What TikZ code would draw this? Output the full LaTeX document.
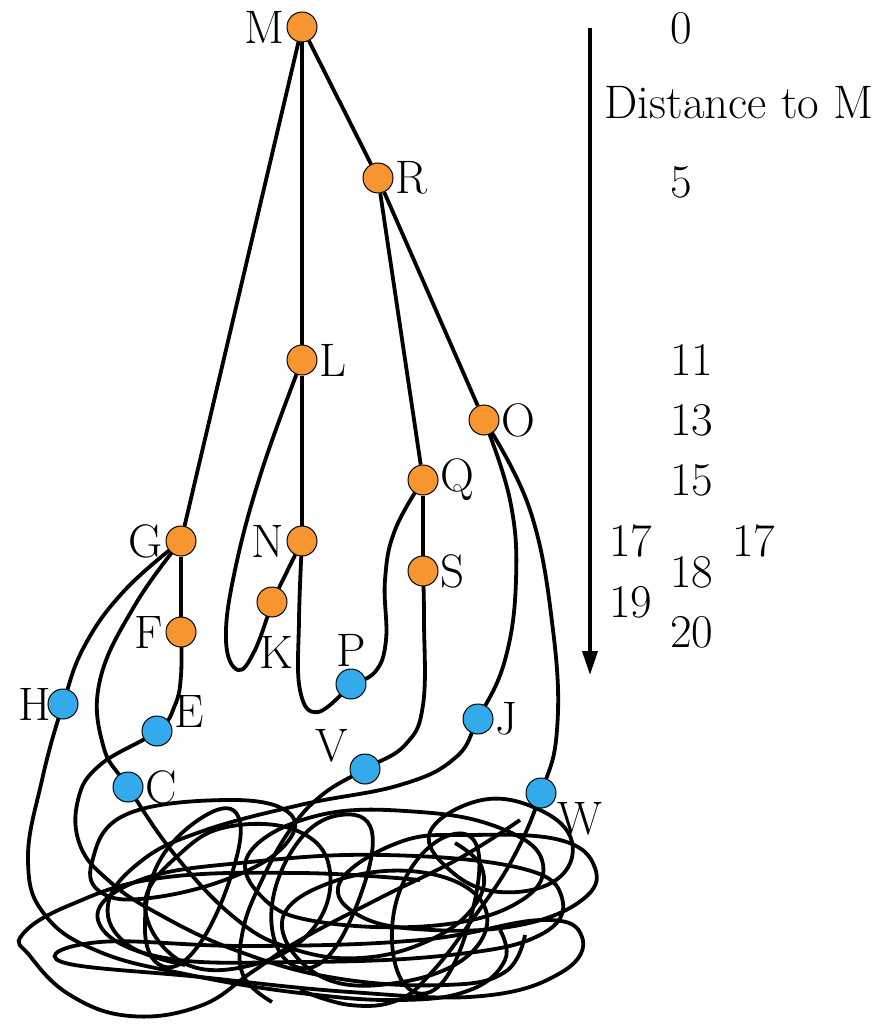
\documentclass[tikz,border=0pt]{standalone}
\usetikzlibrary{arrows.meta,backgrounds}
\definecolor{settledc}{RGB}{247,150,48}
\definecolor{frontierc}{RGB}{50,170,235}
\begin{document}
\begin{tikzpicture}[x=0.5pt,y=-0.5pt,
  font=\fontsize{23.5}{28}\selectfont,
  vtx/.style={circle,draw=black,line width=0.5pt,minimum size=15pt,inner sep=0pt},
  settled/.style={vtx,fill=settledc},
  frontier/.style={vtx,fill=frontierc},
  every label/.style={inner sep=1pt},
  link/.style={line width=1.9pt},
  knot/.style={line width=1.9pt,smooth,tension=0.7}]
  \useasboundingbox (0,0) rectangle (884,1027);
  % vertices already reached
  \node[settled,label=left:M] (M) at (302,27) {};
  \node[settled,label=right:R] (R) at (378,178) {};
  \node[settled,label=right:L] (L) at (302,360) {};
  \node[settled,label=right:O] (O) at (484,420) {};
  \node[settled,label=right:Q] (Q) at (423,480) {};
  \node[settled,label=left:G] (G) at (181,541) {};
  \node[settled,label=left:N] (N) at (302,541) {};
  \node[settled,label=right:S] (S) at (423,571) {};
  \node[settled,label={[label distance=8pt,xshift=2pt]below:K}] (K) at (272,602) {};
  \node[settled,label=left:F] (F) at (181,632) {};
  % vertices on the frontier
  \node[frontier,label=above:P] (P) at (351,684) {};
  \node[frontier,label={[xshift=3pt]left:H}] (H) at (63,704) {};
  \node[frontier,label=5:E] (E) at (157,731) {};
  \node[frontier,label=right:J] (J) at (478,719) {};
  \node[frontier,label=165:V] (V) at (365,769) {};
  \node[frontier,label=right:C] (C) at (128,787) {};
  \node[frontier,label=-25:W] (W) at (541,793) {};
  \begin{scope}[on background layer]
    % tree edges
    \draw[link] (M) -- (G);
    \draw[link] (M) -- (L);
    \draw[link] (M) -- (R);
    \draw[link] (R) -- (O);
    \draw[link] (R) -- (Q);
    \draw[link] (L) -- (N);
    \draw[link] (N) -- (K);
    \draw[link] (Q) -- (S);
    \draw[link] (G) -- (F);
    \draw[knot] plot coordinates {(L) (262,470) (235,570) (226,640) (238,670) (255,650) (K)};
    \draw[knot] plot coordinates {(N) (299,620) (300,690) (318,712) (P)};
    \draw[knot] plot coordinates {(Q) (395,530) (385,580) (386,640) (375,672) (P)};
    % edges running into the tangle
    \draw[knot] plot coordinates {(G) (125,590) (85,645) (H) (42,780) (28,860) (45,915) (100,952) (190,975) (300,993) (400,1000) (470,990) (505,960) (500,930)};
    \draw[knot] plot coordinates {(G) (135,605) (100,680) (103,745) (C) (175,855) (235,918) (290,948) (360,958) (430,940) (475,905) (482,868) (455,843)};
    \draw[knot] plot coordinates {(F) (181,675) (175,705) (E) (100,765) (78,800) (80,845) (108,880) (155,912) (235,950) (335,978) (445,985) (505,972) (525,935)};
    \draw[knot] plot coordinates {(S) (424,620) (423,705) (405,745) (V) (322,795) (290,830) (262,880) (243,930) (243,975) (272,1002)};
    \draw[knot] plot coordinates {(O) (510,500) (516,580) (505,660) (J) (455,758) (400,785) (300,805) (200,832) (140,862) (108,905) (128,945) (185,965)};
    \draw[knot] plot coordinates {(O) (530,510) (553,630) (557,730) (W) (512,860) (472,920) (432,972) (398,1000) (350,1005) (300,990)};
    % the tangle
    \draw[knot] plot[smooth cycle] coordinates {(92,862) (125,815) (225,800) (288,812) (285,845) (230,878) (150,898) (102,893)};
    \draw[knot] plot[smooth cycle] coordinates {(98,920) (140,880) (250,862) (385,855) (520,868) (562,898) (540,935) (450,955) (300,962) (160,957)};
    \draw[knot] plot[smooth cycle] coordinates {(145,905) (182,852) (232,826) (300,832) (330,872) (312,930) (252,965) (182,962)};
    \draw[knot] plot[smooth cycle] coordinates {(250,852) (320,815) (420,812) (500,828) (542,860) (522,900) (440,925) (320,922) (262,897)};
    \draw[knot] plot[smooth cycle] coordinates {(282,922) (332,882) (420,872) (482,902) (472,952) (402,982) (322,977)};
    \draw[knot] plot[smooth cycle] coordinates {(340,882) (400,842) (470,835) (560,840) (595,868) (582,900) (520,925) (432,930) (362,917)};
    \draw[knot] plot[smooth cycle] coordinates {(430,832) (482,800) (540,810) (572,842) (556,880) (500,892) (452,872)};
    \draw[knot] plot[smooth cycle] coordinates {(145,930) (160,860) (212,812) (240,822) (228,885) (195,950) (162,966)};
    \draw[knot] plot[smooth cycle] coordinates {(272,905) (298,842) (340,815) (372,832) (358,902) (322,962) (284,958)};
    \draw[knot] plot[smooth cycle] coordinates {(392,930) (410,870) (450,835) (478,850) (470,920) (440,985) (405,985)};
    \draw[knot] plot[smooth cycle] coordinates {(62,962) (200,977) (350,992) (482,996) (562,972) (582,937) (542,920) (420,940) (250,946) (100,942)};
    \draw[knot] plot coordinates {(520,820) (460,858) (380,898) (300,940) (252,972) (200,1006) (130,1016) (70,995) (30,956) (22,935) (70,905) (160,878) (300,873) (420,880)};
  \end{scope}
  % distance scale
  \draw[line width=1.9pt,-{Triangle[length=12pt,width=7.5pt]}] (590,28) -- (590,675);
  \node[anchor=west] (d0) at (663,28) {0};
  \node (dlabel) at (739,103) {Distance to M};
  \node[anchor=west] (d5) at (663,182) {5};
  \node[anchor=west] (d11) at (663,360) {11};
  \node[anchor=west] (d13) at (663,420) {13};
  \node[anchor=west] (d15) at (663,480) {15};
  \node[anchor=west] (d17a) at (602,541) {17};
  \node[anchor=west] (d17b) at (725,541) {17};
  \node[anchor=west] (d18) at (663,572) {18};
  \node[anchor=west] (d19) at (602,602) {19};
  \node[anchor=west] (d20) at (663,632) {20};
\end{tikzpicture}
\end{document}
